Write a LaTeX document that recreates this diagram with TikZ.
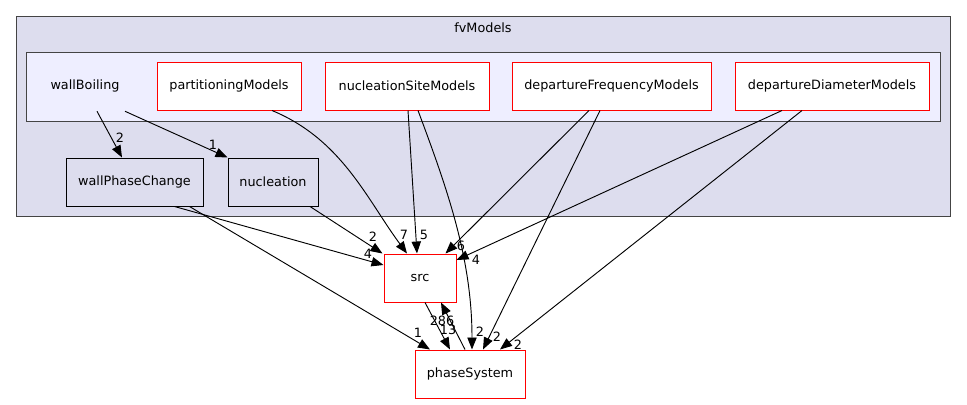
\documentclass[tikz,border=0pt]{standalone}
\usepackage{xcolor}
\usepackage{fontspec}
\setmainfont{DejaVu Sans}
\usepackage{tikz}
\usetikzlibrary{arrows.meta, positioning, calc}
\definecolor{clusterbg}{RGB}{221,221,238}
\definecolor{innerbg}{RGB}{238,238,255}
\definecolor{clusterline}{RGB}{68,68,68}
\definecolor{myred}{RGB}{255,0,0}
\tikzset{
  outercluster/.style={rectangle, draw=clusterline, fill=clusterbg,
    line width=0.75pt, inner sep=0pt},
  innercluster/.style={rectangle, draw=clusterline, fill=innerbg,
    line width=0.75pt, inner sep=0pt},
  reddir/.style={rectangle, draw=myred, fill=white, line width=0.75pt,
    minimum height=36pt, inner sep=0pt},
  blackdir/.style={rectangle, draw=black, fill=clusterbg, line width=0.75pt,
    minimum height=36pt, inner sep=0pt},
  plain/.style={inner sep=0pt, minimum height=36pt},
  dep/.style={-{Triangle[length=9pt,width=7pt]}, line width=0.7pt, color=black},
  elabel/.style={inner sep=0pt}
}

\begin{document}
\begin{tikzpicture}[x=0.75pt, y=-0.75pt, every node/.style={font=\fontsize{9.6}{11.5}\selectfont}]
  \useasboundingbox (0,0) rectangle (967,404);

  % clusters
  \node[outercluster, minimum width=700.5pt, minimum height=150pt] (fvm) at (483,116) {};
  \node (fvmlabel) at (483,28) {fvModels};
  \node[innercluster, minimum width=685.5pt, minimum height=51.75pt] (wbc) at (483,86.5) {};
  \node[plain] (wb) at (85,86) {wallBoiling};

  % directories
  \node[reddir, minimum width=108pt] (pm) at (229,86) {partitioningModels};
  \node[reddir, minimum width=123pt] (nsm) at (407,86) {nucleationSiteModels};
  \node[reddir, minimum width=149.25pt] (dfm) at (611.5,86) {departureFrequencyModels};
  \node[reddir, minimum width=145.5pt] (ddm) at (832,86) {departureDiameterModels};
  \node[blackdir, minimum width=102.75pt] (wpc) at (134.5,182) {wallPhaseChange};
  \node[blackdir, minimum width=67.5pt] (nuc) at (273,182) {nucleation};
  \node[reddir, minimum width=54pt] (src) at (420,278) {src};
  \node[reddir, minimum width=82.5pt] (ps) at (470,374) {phaseSystem};

  % dependencies
  \draw[dep] ($(wb.south)+(12,1)$) -- ($(wpc.north)+(-12.5,0)$);
  \draw[dep] ($(wb.south)+(40,1)$) -- (nuc.north west);
  \draw[dep] ($(pm.south)+(43,0)$) .. controls +(70,29) and +(-40,-54) .. ($(src.north)+(-13,0)$);
  \draw[dep] ($(nsm.south)+(1,0)$) -- ($(src.north)+(-3,0)$);
  \draw[dep] ($(nsm.south)+(11,0)$) .. controls +(30,80) and +(0,-90) .. ($(ps.north)+(2,0)$);
  \draw[dep] ($(dfm.south)+(-22.5,0)$) -- ($(src.north east)+(-11,0)$);
  \draw[dep] ($(dfm.south)+(-11.5,0)$) -- ($(ps.north)+(13,0)$);
  \draw[dep] ($(ddm.south)+(-50,0)$) -- ($(src.east)+(0,-18)$);
  \draw[dep] ($(ddm.south)+(-30,0)$) -- ($(ps.north)+(30,0)$);
  \draw[dep] ($(wpc.south)+(40,0)$) -- ($(src.west)+(0,-13)$);
  \draw[dep] ($(wpc.south)+(55,0)$) -- ($(ps.north)+(-40,0)$);
  \draw[dep] ($(nuc.south)+(37,0)$) -- ($(src.north west)+(-1,0)$);
  \draw[dep] ($(src.south)+(5,0)$) -- ($(ps.north)+(-20,0)$);
  \draw[dep] ($(ps.north)+(-5,0)$) -- ($(src.south)+(21,0)$);

  % labels
  \node[elabel] (l1) at (120,138) {2};
  \node[elabel] (l2) at (213,145) {1};
  \node[elabel] (l3) at (404,235) {7};
  \node[elabel] (l4) at (424,235) {5};
  \node[elabel] (l5) at (480,332) {2};
  \node[elabel] (l6) at (461,246) {6};
  \node[elabel] (l7) at (497,337) {2};
  \node[elabel] (l8) at (476,260) {4};
  \node[elabel] (l9) at (518,345) {2};
  \node[elabel] (l10) at (368,254) {4};
  \node[elabel] (l11) at (418,333) {1};
  \node[elabel] (l12) at (373,237) {2};
  \node[elabel] (l13) at (448,330) {13};
  \node[elabel] (l14) at (442,321) {286};
\end{tikzpicture}
\end{document}
